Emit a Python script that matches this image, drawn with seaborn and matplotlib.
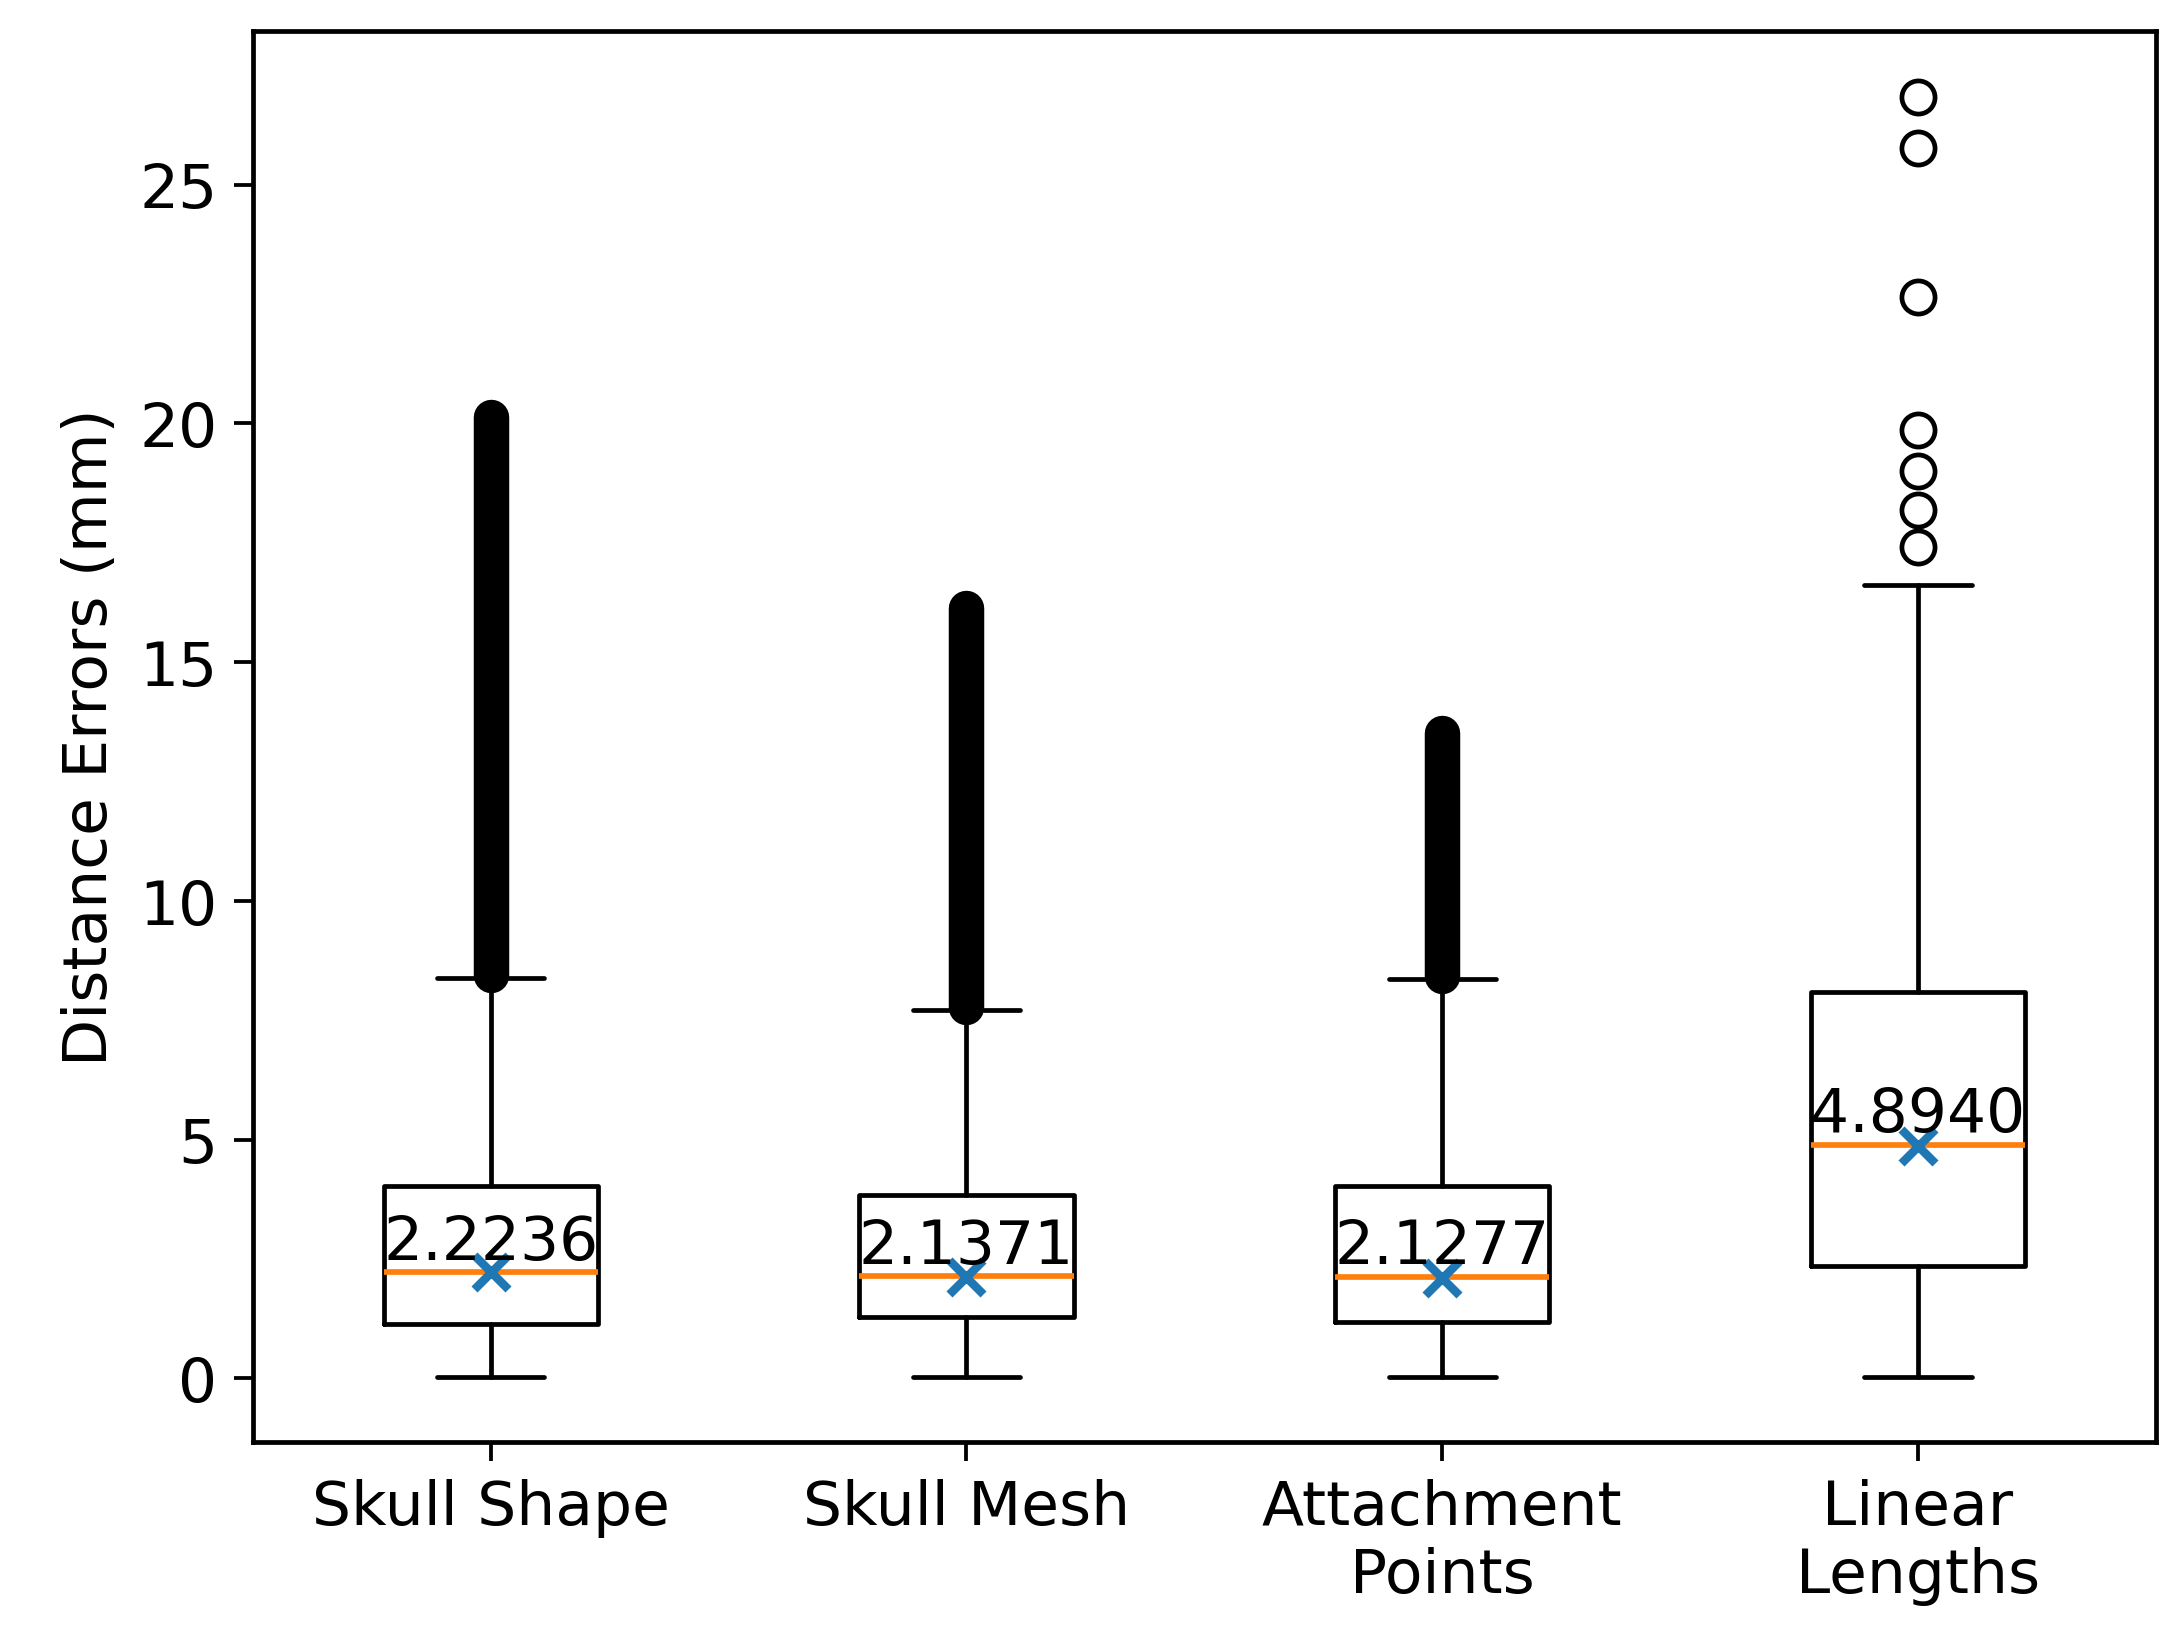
import matplotlib
matplotlib.use("Agg")
import matplotlib.pyplot as plt
import seaborn as sns

sns.set_style("ticks")
plt.rcParams['font.family'] = ['DejaVu Sans']
plt.rcParams['text.color'] = 'black'
plt.rcParams['axes.labelcolor'] = 'black'
plt.rcParams['xtick.color'] = 'black'
plt.rcParams['ytick.color'] = 'black'

categories = ["Skull Shape", "Skull Mesh", "Attachment\nPoints", "Linear\nLengths"]
whislo = [0.02, 0.02, 0.03, 0.03]
q1 = [1.14, 1.28, 1.19, 2.36]
med = [2.2236, 2.1371, 2.1277, 4.8940]
q3 = [4.02, 3.85, 4.02, 8.10]
whishi = [8.39, 7.72, 8.36, 16.61]
means = [2.22, 2.12, 2.10, 4.87]
# dense flier ranges (drawn as solid columns) for the first three
dense_lo = [8.45, 7.78, 8.42]
dense_hi = [20.13, 16.14, 13.52]
linear_fliers = [17.42, 18.18, 19.00, 19.87, 22.64, 25.76, 26.84]

fig = plt.figure(figsize=(6.4, 4.82), dpi=340.6)
ax = fig.add_axes([0.116, 0.121, 0.873, 0.86])

stats = []
for i, c in enumerate(categories):
    stats.append(dict(label=c, whislo=whislo[i], q1=q1[i], med=med[i], q3=q3[i],
                      whishi=whishi[i], mean=means[i],
                      fliers=linear_fliers if i == 3 else []))
ax.bxp(stats, positions=[1, 2, 3, 4], widths=0.45, showmeans=True,
       boxprops=dict(color='black', linewidth=1.0),
       whiskerprops=dict(color='black', linewidth=1.0),
       capprops=dict(color='black', linewidth=1.0),
       medianprops=dict(color='#ff7f0e', linewidth=1.2),
       meanprops=dict(marker='x', markeredgecolor='#1f77b4', markersize=7, markeredgewidth=1.8),
       flierprops=dict(marker='o', markerfacecolor='none', markeredgecolor='black', markersize=7, markeredgewidth=1.0))

for i in range(3):
    ax.plot([i + 1, i + 1], [dense_lo[i], dense_hi[i]], color='black', linewidth=7.5,
            solid_capstyle='round', zorder=3)

for i, m in enumerate(med):
    ax.text(i + 1, m, f"{m:.4f}", ha='center', va='bottom', fontsize=13, color='black')

ax.set_ylim(-1.34, 28.23)
ax.set_xlim(0.5, 4.5)
ax.set_yticks([0, 5, 10, 15, 20, 25])
ax.set_ylabel("Distance Errors (mm)", fontsize=13)
ax.tick_params(labelsize=13, direction='out', length=4, colors='black')
for s in ax.spines.values():
    s.set_visible(True)
    s.set_color('black')
    s.set_linewidth(1.0)

fig.savefig("out.png", dpi=340.6)
